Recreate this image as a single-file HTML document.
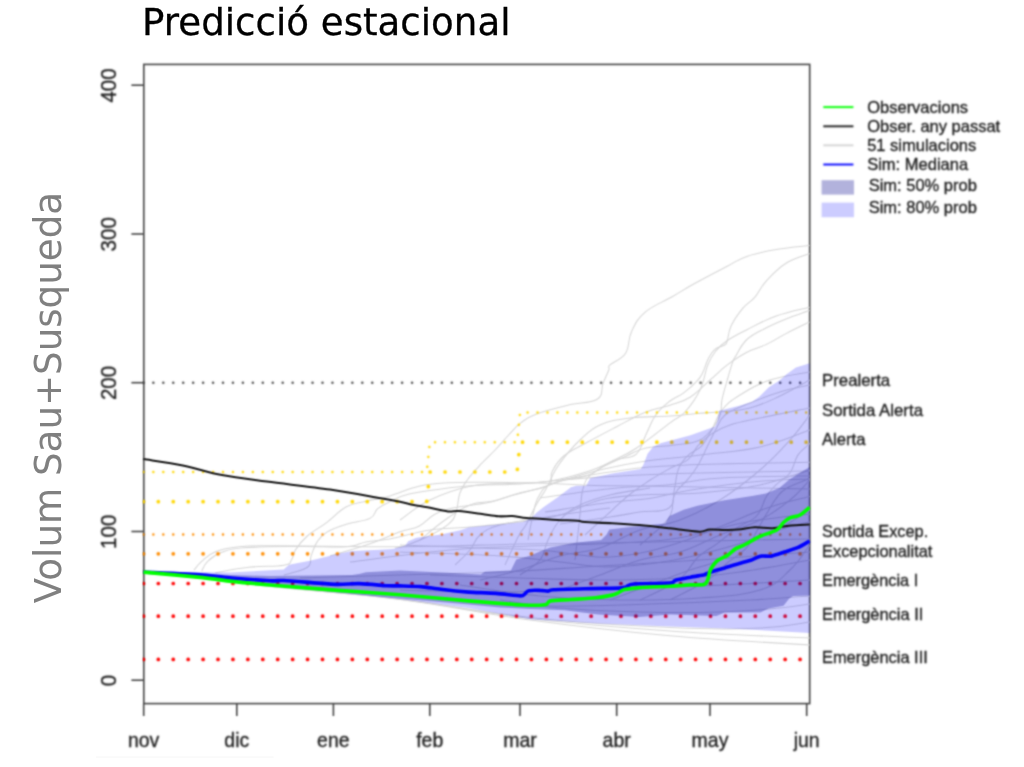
<!DOCTYPE html>
<html lang="ca"><head><meta charset="utf-8"><title>Predicció estacional</title>
<style>
html,body{margin:0;padding:0;background:#fff;}
body{width:1024px;height:767px;overflow:hidden;position:relative;font-family:"Liberation Sans",sans-serif;}
svg{position:absolute;left:0;top:0;display:block;}
.t{font-family:"DejaVu Sans","Liberation Sans",sans-serif;font-size:37.33px;}
.a{font-family:"Liberation Sans",sans-serif;font-size:22.60px;fill:#1a1a1a;stroke:#1a1a1a;stroke-width:0.30px;}
.l{font-family:"Liberation Sans",sans-serif;font-size:15.70px;fill:#1a1a1a;stroke:#1a1a1a;stroke-width:0.32px;}
</style></head><body>
<svg width="1024" height="767" viewBox="0 0 1024 767">
<defs>
<clipPath id="cp"><rect x="142.9" y="63.5" width="667.4" height="641.0"/></clipPath>
<filter id="bp" filterUnits="userSpaceOnUse" x="0" y="0" width="1024" height="767" color-interpolation-filters="sRGB"><feConvolveMatrix order="5" kernelMatrix="0.00023 0.00332 0.00809 0.00332 0.00023 0.00332 0.04785 0.11640 0.04785 0.00332 0.00809 0.11640 0.28313 0.11640 0.00809 0.00332 0.04785 0.11640 0.04785 0.00332 0.00023 0.00332 0.00809 0.00332 0.00023" edgeMode="none"/></filter>
<filter id="bt" filterUnits="userSpaceOnUse" x="0" y="0" width="1024" height="767" color-interpolation-filters="sRGB"><feConvolveMatrix order="5" kernelMatrix="0.00212 0.01118 0.01946 0.01118 0.00212 0.01118 0.05892 0.10253 0.05892 0.01118 0.01946 0.10253 0.17843 0.10253 0.01946 0.01118 0.05892 0.10253 0.05892 0.01118 0.00212 0.01118 0.01946 0.01118 0.00212" edgeMode="none"/></filter>
<filter id="bb" filterUnits="userSpaceOnUse" x="0" y="0" width="1024" height="767" color-interpolation-filters="sRGB"><feConvolveMatrix order="5" kernelMatrix="0.00087 0.00695 0.01388 0.00695 0.00087 0.00695 0.05540 0.11068 0.05540 0.00695 0.01388 0.11068 0.22111 0.11068 0.01388 0.00695 0.05540 0.11068 0.05540 0.00695 0.00087 0.00695 0.01388 0.00695 0.00087" edgeMode="none"/></filter>
<filter id="bd" filterUnits="userSpaceOnUse" x="0" y="0" width="1024" height="767" color-interpolation-filters="sRGB"><feConvolveMatrix order="5" kernelMatrix="0.00000 0.00003 0.00021 0.00003 0.00000 0.00003 0.01133 0.08373 0.01133 0.00003 0.00021 0.08373 0.61869 0.08373 0.00021 0.00003 0.01133 0.08373 0.01133 0.00003 0.00000 0.00003 0.00021 0.00003 0.00000" edgeMode="none"/></filter>
</defs>
<rect width="1024" height="767" fill="#fff"/>
<text class="t" x="142.1" y="35.2" fill="#000" stroke="#000" stroke-width="0.3" style="font-size:37.17px">Predicció estacional</text>
<text class="t" transform="translate(61.2,603.2) rotate(-90) scale(0.996,1.02)" fill="#808080">Volum Sau+Susqueda</text>
<line x1="96" x2="273.5" y1="757.2" y2="757.2" stroke="#f8f8f8" stroke-width="1.2"/>

<g filter="url(#bb)" stroke="#444444" stroke-width="1.60" fill="none">
<rect x="143.8" y="64.4" width="665.9" height="639.2"/>
<line x1="143.7" y1="703.6" x2="143.7" y2="716.0"/>
<line x1="236.8" y1="703.6" x2="236.8" y2="716.0"/>
<line x1="333.4" y1="703.6" x2="333.4" y2="716.0"/>
<line x1="429.8" y1="703.6" x2="429.8" y2="716.0"/>
<line x1="520.0" y1="703.6" x2="520.0" y2="716.0"/>
<line x1="616.7" y1="703.6" x2="616.7" y2="716.0"/>
<line x1="710.0" y1="703.6" x2="710.0" y2="716.0"/>
<line x1="806.7" y1="703.6" x2="806.7" y2="716.0"/>
<line x1="131.4" y1="680.2" x2="143.8" y2="680.2"/>
<line x1="131.4" y1="531.5" x2="143.8" y2="531.5"/>
<line x1="131.4" y1="382.7" x2="143.8" y2="382.7"/>
<line x1="131.4" y1="234.0" x2="143.8" y2="234.0"/>
<line x1="131.4" y1="85.2" x2="143.8" y2="85.2"/>
</g>
<g filter="url(#bp)"><g clip-path="url(#cp)" fill="none">
<g stroke="#d6d6d6" stroke-width="1.05" stroke-linejoin="round">
<path d="M395.0 548.0 C397.0 547.6 398.5 548.2 405.2 545.8 C411.9 543.4 420.1 540.3 428.7 536.0 C437.3 531.7 442.7 529.0 448.2 524.3 C453.7 519.6 453.7 518.9 456.0 512.6 C458.3 506.3 457.5 499.7 459.9 493.0 C462.3 486.3 463.5 485.2 467.8 479.3 C472.1 473.4 475.9 469.6 481.4 463.7 C486.9 457.8 489.6 455.8 495.1 450.0 C500.6 444.2 504.0 439.9 509.1 434.5 C514.2 429.1 515.3 426.9 520.8 422.8 C526.3 418.7 527.1 417.5 536.5 414.0 C545.9 410.5 555.7 408.1 567.8 405.2 C579.9 402.3 590.1 403.6 597.1 399.3 C604.1 395.0 600.6 389.6 602.9 383.7 C605.2 377.8 607.4 373.8 608.8 370.0 C610.2 366.2 606.6 368.3 610.0 364.9 C613.4 361.5 621.3 359.8 625.6 353.2 C629.9 346.6 627.6 339.9 631.5 331.7 C635.4 323.5 637.0 319.1 645.2 312.1 C653.4 305.1 662.8 302.2 672.6 296.5 C682.4 290.8 683.2 289.9 694.1 283.8 C705.0 277.7 716.7 271.7 727.3 266.2 C737.9 260.7 737.1 259.7 746.9 256.4 C756.7 253.1 763.6 251.8 776.2 249.6 C788.8 247.4 803.0 246.4 809.7 245.6"/>
<path d="M400.0 520.0 C406.0 516.0 416.0 506.7 430.0 500.0 C444.0 493.3 454.2 489.6 470.0 486.3 C485.8 483.0 493.5 484.4 509.1 483.4 C524.7 482.4 532.6 483.7 548.2 481.4 C563.8 479.1 573.6 476.0 587.3 471.7 C601.0 467.4 606.8 463.4 616.6 459.9 C626.4 456.4 630.3 459.2 636.2 454.1 C642.1 449.0 642.1 442.3 646.0 434.5 C649.9 426.7 650.9 421.7 655.7 415.0 C660.5 408.3 664.4 405.4 670.0 401.0 C675.6 396.6 678.2 397.0 683.7 392.9 C689.2 388.8 693.6 384.7 697.4 380.6 C701.2 376.5 700.6 376.8 702.8 372.4 C705.0 368.0 705.8 363.4 708.3 358.7 C710.8 354.0 711.8 351.8 715.1 349.1 C718.4 346.4 722.3 346.7 724.7 345.0 C727.1 343.3 726.0 344.3 727.3 340.5 C728.6 336.7 728.1 332.3 731.2 325.8 C734.3 319.3 738.2 313.9 742.9 308.2 C747.6 302.5 750.0 302.9 754.7 297.4 C759.4 291.9 760.1 287.6 766.4 280.8 C772.7 274.0 777.3 268.7 786.0 263.2 C794.7 257.7 805.0 255.4 809.7 253.5"/>
<path d="M420.0 540.0 C425.0 536.0 435.0 527.0 445.0 520.0 C455.0 513.0 460.3 508.7 470.0 504.9 C479.7 501.1 483.7 503.3 493.5 501.0 C503.3 498.7 508.0 496.3 518.9 493.2 C529.8 490.1 541.6 489.6 548.2 485.3 C554.8 481.0 549.0 477.6 552.1 471.7 C555.2 465.8 556.8 461.9 563.8 456.0 C570.8 450.1 576.7 448.2 587.3 442.3 C597.9 436.4 604.9 432.8 616.6 426.7 C628.3 420.6 635.3 416.3 646.0 412.0 C656.7 407.7 661.1 408.2 670.0 405.2 C678.9 402.2 682.3 402.2 690.5 397.0 C698.7 391.8 703.6 385.6 711.0 379.2 C718.4 372.8 720.1 370.3 727.3 364.9 C734.5 359.5 739.1 356.3 746.9 352.2 C754.7 348.1 758.6 348.1 766.4 344.4 C774.2 340.7 777.3 338.1 786.0 333.6 C794.7 329.1 805.0 324.2 809.7 321.9"/>
<path d="M528.0 540.0 C528.9 535.3 530.5 525.2 532.6 516.6 C534.7 508.0 534.5 503.7 538.4 497.1 C542.3 490.5 542.3 487.7 552.1 483.4 C561.9 479.1 576.3 479.5 587.3 475.6 C598.3 471.7 597.1 469.3 606.9 463.8 C616.7 458.3 623.6 456.4 636.2 448.2 C648.8 440.0 660.2 430.0 670.0 422.8 C679.8 415.6 679.0 418.6 685.0 412.0 C691.0 405.4 695.4 399.4 700.0 390.0 C704.6 380.6 704.7 372.7 707.8 364.9 C710.9 357.1 711.7 356.1 715.6 351.2 C719.5 346.3 721.0 344.8 727.3 340.5 C733.6 336.2 737.1 334.6 746.9 329.7 C756.7 324.8 763.6 320.5 776.2 316.0 C788.8 311.5 803.0 309.0 809.7 307.2"/>
<path d="M575.0 560.0 C575.9 552.0 577.8 534.5 579.5 520.0 C581.2 505.5 580.3 497.0 583.4 487.3 C586.5 477.6 586.5 478.0 595.1 471.7 C603.7 465.4 616.2 460.7 626.4 456.0 C636.6 451.3 636.3 450.2 646.0 448.0 C655.7 445.8 664.2 446.6 675.0 445.0 C685.8 443.4 692.0 444.0 700.0 440.0 C708.0 436.0 710.9 430.3 715.0 425.0 C719.1 419.7 719.2 418.5 720.6 413.4 C722.0 408.3 720.6 406.5 722.0 399.7 C723.4 392.9 725.3 386.9 727.5 379.2 C729.7 371.5 731.4 365.8 732.9 361.4 C734.4 357.0 732.3 361.5 735.1 357.1 C737.9 352.7 740.6 345.4 746.9 339.5 C753.2 333.6 758.6 331.9 766.4 327.8 C774.2 323.7 777.3 322.5 786.0 319.0 C794.7 315.5 805.0 312.0 809.7 310.2"/>
<path d="M193.9 570.2 C195.5 568.4 197.4 565.1 201.7 561.4 C206.0 557.7 208.0 554.6 215.4 551.7 C222.8 548.8 228.3 548.0 238.9 546.8 C249.5 545.6 250.6 545.9 268.2 545.8 C285.8 545.7 302.5 546.0 326.9 546.2 C351.3 546.4 365.4 546.8 390.0 546.8 C414.6 546.8 424.0 546.6 450.0 546.0 C476.0 545.4 490.0 544.6 520.0 544.0 C550.0 543.4 564.0 543.6 600.0 543.0 C636.0 542.4 658.1 541.8 700.0 541.0 C741.9 540.2 787.8 539.4 809.7 539.0"/>
<path d="M201.7 571.2 C202.9 569.2 203.7 565.1 207.6 561.4 C211.5 557.7 213.9 555.3 221.3 552.6 C228.7 549.9 229.0 549.0 244.7 547.8 C260.4 546.6 279.7 546.7 300.0 546.5 C320.3 546.3 333.2 547.7 346.4 546.8 C359.6 545.9 357.3 543.5 366.0 541.9 C374.7 540.3 377.5 541.3 390.0 539.0 C402.5 536.7 413.1 532.6 428.7 530.2 C444.3 527.8 450.2 528.8 467.8 527.2 C485.4 525.6 498.2 524.7 516.6 522.3 C535.0 519.9 543.3 519.5 560.0 515.0 C576.7 510.5 584.0 504.0 600.0 500.0 C616.0 496.0 620.0 496.4 640.0 495.0 C660.0 493.6 676.0 495.0 700.0 493.0 C724.0 491.0 738.1 489.6 760.0 485.0 C781.9 480.4 799.8 473.0 809.7 470.0"/>
<path d="M215.4 572.8 C222.1 571.7 235.0 568.8 248.7 567.3 C262.4 565.8 275.2 566.9 283.8 565.3 C292.4 563.7 289.3 562.6 291.7 559.5 C294.1 556.4 292.5 554.4 295.6 549.7 C298.7 545.0 301.0 541.5 307.3 536.0 C313.6 530.5 319.1 528.2 326.9 522.3 C334.7 516.4 338.6 510.9 346.4 506.7 C354.2 502.5 357.3 503.4 366.0 501.2 C374.7 499.0 379.4 498.9 390.0 495.9 C400.6 492.9 407.3 488.8 418.9 486.2 C430.5 483.6 434.5 483.6 448.2 482.8 C461.9 482.0 467.7 482.2 487.3 482.3 C506.9 482.4 526.0 482.6 546.0 483.2 C566.0 483.8 568.5 484.7 587.3 485.3 C606.1 485.9 617.5 485.7 640.0 486.0 C662.5 486.3 666.1 486.4 700.0 487.0 C733.9 487.6 787.8 488.6 809.7 489.0"/>
<path d="M283.8 575.1 C288.5 573.5 301.8 571.2 307.3 567.3 C312.8 563.4 309.2 560.7 311.2 555.6 C313.2 550.5 314.0 546.6 317.1 541.9 C320.2 537.2 321.0 535.6 326.9 532.1 C332.8 528.6 337.8 527.0 346.4 524.3 C355.0 521.6 363.6 521.5 369.9 518.4 C376.2 515.3 373.7 512.0 377.7 508.7 C381.7 505.4 383.7 504.7 390.0 501.8 C396.3 498.9 397.5 496.7 409.1 494.0 C420.7 491.3 434.5 489.9 448.2 488.1 C461.9 486.3 463.1 486.0 477.5 485.2 C491.9 484.4 501.5 485.2 520.0 484.0 C538.5 482.8 550.0 480.9 570.0 479.3 C590.0 477.7 594.0 477.3 620.0 476.0 C646.0 474.7 662.1 474.0 700.0 473.0 C737.9 472.0 787.8 471.4 809.7 471.0"/>
<path d="M330.0 556.0 C338.0 553.6 356.1 548.6 370.0 543.8 C383.9 539.0 389.5 535.6 399.3 532.1 C409.1 528.6 411.9 529.7 418.9 526.2 C425.9 522.7 427.5 518.2 434.5 514.5 C441.5 510.8 443.5 510.0 454.1 507.7 C464.7 505.4 476.7 505.0 487.3 502.8 C497.9 500.6 497.1 499.6 506.9 496.9 C516.7 494.2 523.6 492.8 536.2 489.1 C548.8 485.4 557.2 482.1 570.0 478.3 C582.8 474.5 586.0 473.3 600.0 470.0 C614.0 466.7 620.0 465.0 640.0 462.0 C660.0 459.0 676.0 458.0 700.0 455.0 C724.0 452.0 738.1 452.0 760.0 447.0 C781.9 442.0 799.8 433.4 809.7 430.0"/>
<path d="M505.0 565.0 C507.7 559.2 514.3 544.1 518.6 536.0 C522.9 527.9 522.9 530.6 526.4 524.3 C529.9 518.0 532.3 511.7 536.2 504.7 C540.1 497.7 542.1 496.1 546.0 489.1 C549.9 482.1 551.8 476.2 555.7 469.6 C559.6 463.0 560.6 461.8 565.5 455.9 C570.4 450.0 573.1 446.2 580.0 440.0 C586.9 433.8 590.0 429.4 600.0 425.0 C610.0 420.6 616.0 419.8 630.0 418.0 C644.0 416.2 656.5 417.0 670.0 416.1 C683.5 415.2 687.8 414.2 697.4 413.4 C707.0 412.6 707.4 413.1 717.9 412.0 C728.4 410.9 737.6 411.2 750.0 408.0 C762.4 404.8 768.1 401.6 780.0 396.0 C791.9 390.4 803.8 383.2 809.7 380.0"/>
<path d="M480.0 580.0 C488.0 578.0 504.0 574.8 520.0 570.0 C536.0 565.2 544.0 560.4 560.0 556.0 C576.0 551.6 584.0 553.2 600.0 548.0 C616.0 542.8 624.0 535.6 640.0 530.0 C656.0 524.4 664.0 526.0 680.0 520.0 C696.0 514.0 704.0 510.0 720.0 500.0 C736.0 490.0 746.0 482.0 760.0 470.0 C774.0 458.0 780.1 451.0 790.0 440.0 C799.9 429.0 805.8 420.0 809.7 415.0"/>
<path d="M560.0 590.0 C568.0 587.0 584.0 581.0 600.0 575.0 C616.0 569.0 624.0 564.6 640.0 560.0 C656.0 555.4 664.0 557.0 680.0 552.0 C696.0 547.0 704.0 541.4 720.0 535.0 C736.0 528.6 746.0 527.0 760.0 520.0 C774.0 513.0 780.1 508.0 790.0 500.0 C799.9 492.0 805.8 484.0 809.7 480.0"/>
<path d="M610.0 600.0 C618.0 597.0 634.0 591.0 650.0 585.0 C666.0 579.0 676.0 575.0 690.0 570.0 C704.0 565.0 708.0 566.0 720.0 560.0 C732.0 554.0 738.0 546.4 750.0 540.0 C762.0 533.6 768.1 534.0 780.0 528.0 C791.9 522.0 803.8 513.6 809.7 510.0"/>
<path d="M300.0 578.0 C320.0 577.4 360.0 576.2 400.0 575.0 C440.0 573.8 460.0 573.8 500.0 572.0 C540.0 570.2 560.0 568.4 600.0 566.0 C640.0 563.6 658.1 562.8 700.0 560.0 C741.9 557.2 787.8 553.6 809.7 552.0"/>
<path d="M400.0 590.0 C420.0 590.4 460.0 592.4 500.0 592.0 C540.0 591.6 560.0 589.2 600.0 588.0 C640.0 586.8 658.1 587.6 700.0 586.0 C741.9 584.4 787.8 581.2 809.7 580.0"/>
<path d="M450.0 600.0 C470.0 601.2 510.0 605.2 550.0 606.0 C590.0 606.8 610.0 605.2 650.0 604.0 C690.0 602.8 718.1 601.6 750.0 600.0 C781.9 598.4 797.8 596.8 809.7 596.0"/>
<path d="M143.5 571.7 C168.8 574.7 218.7 580.9 270.0 586.5 C321.3 592.1 348.0 592.8 400.0 599.5 C452.0 606.2 476.0 612.7 530.0 620.0 C584.0 627.3 614.1 630.8 670.0 635.8 C725.9 640.8 781.8 643.2 809.7 645.0"/>
<path d="M143.5 571.7 C168.8 574.6 218.7 580.8 270.0 586.3 C321.3 591.8 348.0 592.8 400.0 599.2 C452.0 605.6 476.0 612.1 530.0 618.5 C584.0 624.9 614.1 627.1 670.0 631.0 C725.9 634.9 781.8 636.6 809.7 638.0"/>
<path d="M143.5 571.7 C168.8 574.6 218.7 580.7 270.0 586.2 C321.3 591.7 348.0 592.7 400.0 599.0 C452.0 605.3 476.0 611.8 530.0 617.5 C584.0 623.2 624.0 625.4 670.0 627.5 C716.0 629.6 732.1 629.1 760.0 628.0 C787.9 626.9 799.8 623.2 809.7 622.0"/>
<path d="M560.0 480.0 C570.0 478.4 592.2 474.6 610.0 472.0 C627.8 469.4 629.4 468.7 649.0 467.1 C668.6 465.5 675.7 465.2 707.8 464.2 C739.9 463.2 789.3 462.7 809.7 462.3"/>
<path d="M540.0 498.0 C554.0 496.1 584.3 491.4 610.0 488.7 C635.7 486.0 649.1 486.7 668.7 484.7 C688.3 482.7 692.2 480.5 707.8 478.9 C723.4 477.3 726.5 477.5 746.9 476.9 C767.3 476.3 797.1 476.1 809.7 475.9"/>
<path d="M545.0 512.0 C558.0 510.1 589.2 505.0 610.0 502.3 C630.8 499.6 633.4 500.7 649.0 498.4 C664.6 496.1 672.5 493.3 688.2 490.6 C703.9 487.9 711.7 486.7 727.3 484.7 C742.9 482.7 749.9 482.0 766.4 480.8 C782.9 479.6 801.0 479.3 809.7 478.9"/>
<path d="M560.0 524.0 C570.0 522.6 594.1 519.4 610.0 517.0 C625.9 514.6 627.6 513.9 639.3 512.1 C651.0 510.3 661.7 512.9 668.7 508.2 C675.7 503.5 672.6 496.5 674.5 488.7 C676.4 480.9 675.7 475.8 678.4 469.1 C681.1 462.4 683.5 460.1 688.2 455.4 C692.9 450.7 697.2 450.7 701.9 445.6 C706.6 440.5 707.7 437.1 711.7 430.0 C715.7 422.9 716.3 417.0 722.0 410.0 C727.7 403.0 730.4 401.0 740.0 395.0 C749.6 389.0 756.1 384.6 770.0 380.0 C783.9 375.4 801.8 373.6 809.7 372.0"/>
<path d="M585.0 535.0 C590.0 530.4 601.1 520.2 610.0 512.1 C618.9 504.0 621.8 500.8 629.6 494.5 C637.4 488.2 641.2 485.9 649.0 480.8 C656.8 475.7 660.9 473.4 668.7 469.1 C676.5 464.8 682.3 464.0 688.2 459.3 C694.1 454.6 693.3 450.7 698.0 445.6 C702.7 440.5 705.3 438.0 711.7 433.9 C718.1 429.8 720.3 428.2 730.0 425.0 C739.7 421.8 744.1 421.4 760.0 418.0 C775.9 414.6 799.8 410.0 809.7 408.0"/>
<path d="M640.0 545.0 C645.7 539.6 661.8 528.1 668.7 518.0 C675.6 507.9 670.6 502.3 674.5 494.5 C678.4 486.7 683.5 484.8 688.2 478.9 C692.9 473.0 694.1 471.9 698.0 465.2 C701.9 458.5 704.3 452.6 707.8 445.6 C711.3 438.6 712.2 436.1 715.6 430.0 C719.0 423.9 719.1 420.0 725.0 415.0 C730.9 410.0 734.0 409.6 745.0 405.0 C756.0 400.4 767.1 396.0 780.0 392.0 C792.9 388.0 803.8 386.4 809.7 385.0"/>
<path d="M640.0 600.0 C647.7 596.0 666.8 588.6 678.4 580.0 C690.0 571.4 690.2 564.4 698.0 557.1 C705.8 549.8 709.7 549.3 717.5 543.4 C725.3 537.5 729.3 533.3 737.1 527.8 C744.9 522.3 750.7 522.3 756.6 516.0 C762.5 509.7 762.5 502.8 766.4 496.5 C770.3 490.2 771.5 489.4 776.2 484.7 C780.9 480.0 785.6 478.9 789.9 473.0 C794.2 467.1 794.2 460.9 797.7 455.4 C801.2 449.9 805.1 448.1 807.5 445.6 C809.9 443.1 809.3 443.5 809.7 443.0"/>
<path d="M670.0 600.0 C677.6 596.0 696.3 587.4 707.8 580.0 C719.3 572.6 719.5 569.5 727.3 563.0 C735.1 556.5 740.6 554.3 746.9 547.3 C753.2 540.3 754.7 534.4 758.6 527.8 C762.5 521.2 762.9 520.0 766.4 514.1 C769.9 508.2 772.3 503.5 776.2 498.4 C780.1 493.3 779.3 492.7 786.0 488.7 C792.7 484.7 805.0 480.5 809.7 478.5"/>
<path d="M400.0 545.0 C416.0 545.6 452.0 547.0 480.0 548.0 C508.0 549.0 520.0 548.6 540.0 550.0 C560.0 551.4 566.0 553.6 580.0 555.0 C594.0 556.4 596.2 557.8 610.0 557.0 C623.8 556.2 633.4 554.7 649.0 551.2 C664.6 547.7 672.5 545.0 688.2 539.5 C703.9 534.0 711.7 530.1 727.3 523.8 C742.9 517.5 749.9 513.7 766.4 508.2 C782.9 502.7 801.0 498.8 809.7 496.5"/>
<path d="M400.0 552.0 C420.0 552.8 468.0 554.0 500.0 556.0 C532.0 558.0 538.0 559.8 560.0 562.0 C582.0 564.2 588.3 567.1 610.0 566.9 C631.7 566.7 645.2 564.9 668.7 561.0 C692.2 557.1 703.8 553.9 727.3 547.3 C750.8 540.7 769.5 532.9 786.0 527.8 C802.5 522.7 805.0 523.1 809.7 521.9"/>
<path d="M350.0 562.0 C370.0 559.6 414.0 553.2 450.0 550.0 C486.0 546.8 498.0 547.3 530.0 546.0 C562.0 544.7 582.3 544.7 610.0 543.4 C637.7 542.1 649.1 541.8 668.7 539.5 C688.3 537.2 692.2 535.2 707.8 531.7 C723.4 528.2 726.5 525.4 746.9 521.9 C767.3 518.4 797.1 515.7 809.7 514.1"/>
<path d="M430.0 575.0 C448.0 575.6 486.0 577.0 520.0 578.0 C554.0 579.0 568.0 580.0 600.0 580.0 C632.0 580.0 652.0 579.6 680.0 578.0 C708.0 576.4 714.1 575.6 740.0 572.0 C765.9 568.4 795.8 562.4 809.7 560.0"/>
<path d="M460.0 585.0 C476.0 587.2 508.0 593.0 540.0 596.0 C572.0 599.0 588.0 599.6 620.0 600.0 C652.0 600.4 672.0 600.0 700.0 598.0 C728.0 596.0 742.0 595.6 760.0 590.0 C778.0 584.4 780.1 579.0 790.0 570.0 C799.9 561.0 805.8 550.0 809.7 545.0"/>
<path d="M500.0 600.0 C512.0 601.6 532.0 605.6 560.0 608.0 C588.0 610.4 608.0 611.2 640.0 612.0 C672.0 612.8 692.0 612.8 720.0 612.0 C748.0 611.2 762.1 609.6 780.0 608.0 C797.9 606.4 803.8 604.8 809.7 604.0"/>
<path d="M520.0 575.0 C524.0 572.0 534.4 567.0 540.0 560.0 C545.6 553.0 544.0 548.0 548.0 540.0 C552.0 532.0 553.6 527.0 560.0 520.0 C566.4 513.0 570.0 510.0 580.0 505.0 C590.0 500.0 596.0 498.4 610.0 495.0 C624.0 491.6 642.0 489.4 650.0 488.0"/>
<path d="M455.0 565.0 C458.0 562.0 465.0 556.0 470.0 550.0 C475.0 544.0 474.0 540.0 480.0 535.0 C486.0 530.0 488.0 528.4 500.0 525.0 C512.0 521.6 524.0 520.6 540.0 518.0 C556.0 515.4 566.0 514.0 580.0 512.0 C594.0 510.0 604.0 508.8 610.0 508.0"/>
</g>
<g filter="url(#bd)">
<path d="M143.4 382.7 L809.7 382.7" stroke="#4d4d4d" stroke-width="2.49" stroke-linecap="round" stroke-dasharray="0.01 9.940"/>
<path d="M143.4 472.0 L426.7 472.0 L429.9 442.2 L517.1 442.2 L520.1 412.5 L809.7 412.5" stroke="#ffd700" stroke-width="2.49" stroke-linecap="round" stroke-dasharray="0.01 9.940"/>
<path d="M143.4 501.7 L426.7 501.7 L429.9 472.0 L517.1 472.0 L520.1 442.2 L809.7 442.2" stroke="#ffd700" stroke-width="3.73" stroke-linecap="round" stroke-dasharray="0.01 14.914"/>
<path d="M143.4 534.4 L809.7 534.4" stroke="#ff8c00" stroke-width="2.49" stroke-linecap="round" stroke-dasharray="0.01 9.940"/>
<path d="M143.4 553.8 L809.7 553.8" stroke="#ff8c00" stroke-width="3.73" stroke-linecap="round" stroke-dasharray="0.01 14.914"/>
<path d="M143.4 583.5 L809.7 583.5" stroke="#ff0000" stroke-width="3.73" stroke-linecap="round" stroke-dasharray="0.01 14.914"/>
<path d="M143.4 616.2 L809.7 616.2" stroke="#ff0000" stroke-width="3.73" stroke-linecap="round" stroke-dasharray="0.01 14.914"/>
<path d="M143.4 659.4 L809.7 659.4" stroke="#ff0000" stroke-width="3.73" stroke-linecap="round" stroke-dasharray="0.01 14.914"/>
</g>
<polygon points="143.5,571.3 230.0,572.5 270.0,570.2 283.7,569.5 289.0,564.7 311.0,560.6 338.4,553.8 352.0,551.0 379.4,549.7 393.0,549.0 405.4,545.6 408.2,541.2 416.4,537.7 441.0,534.4 460.2,530.3 468.4,527.6 495.8,524.8 523.1,522.1 531.3,518.0 536.8,512.5 543.7,507.0 557.4,497.5 571.0,487.2 576.5,485.8 586.1,485.8 590.2,478.3 612.1,473.5 640.8,469.0 643.5,464.6 647.6,453.7 653.1,446.8 661.3,443.0 670.0,440.8 690.5,435.3 715.1,426.4 717.2,421.6 719.2,410.7 738.4,405.9 752.0,401.8 759.0,397.0 768.5,387.4 779.4,380.6 786.3,374.4 795.9,367.6 809.7,363.3 809.7,633.0 738.4,628.9 670.0,626.5 598.4,623.4 530.0,619.3 468.4,608.0 400.0,599.0 270.0,586.0 143.5,571.7" fill="#0000ff" fill-opacity="0.2"/>
<polygon points="143.5,571.3 230.0,575.0 270.0,576.0 311.0,575.5 352.0,575.0 359.0,574.0 366.0,572.2 400.0,570.4 452.0,573.1 480.7,574.5 484.8,571.7 510.8,570.4 516.3,559.4 530.0,555.7 541.0,551.0 550.5,547.5 575.0,542.7 601.1,539.9 606.6,534.4 609.3,529.6 625.8,527.5 653.1,524.8 665.4,523.5 668.2,518.0 670.0,515.8 683.7,509.8 697.4,505.7 724.7,500.2 752.0,496.1 765.8,493.4 779.4,487.9 789.0,479.7 800.0,472.8 809.7,467.0 809.7,595.4 793.0,596.0 789.0,598.8 783.5,605.7 768.5,608.4 760.3,612.5 724.7,612.5 716.5,615.9 670.0,614.5 639.4,617.0 598.4,614.6 564.0,610.3 530.0,609.0 500.0,607.5 468.4,604.5 400.0,598.4 270.0,585.5 143.5,571.7" fill="#00008b" fill-opacity="0.3"/>
<path d="M143.5 459.1 C150.1 460.2 169.7 462.7 182.8 465.4 C195.9 468.1 207.9 472.4 221.9 475.1 C235.9 477.8 248.9 479.2 266.9 481.6 C284.9 484.0 311.0 486.8 330.0 489.6 C349.0 492.4 369.1 496.2 380.8 498.2 C392.5 500.2 394.5 500.7 400.0 501.8 C405.5 502.9 409.1 504.1 413.7 505.0 C418.3 505.9 421.7 506.2 427.4 507.3 C433.1 508.4 442.7 510.8 447.9 511.4 C453.1 512.0 453.1 510.7 458.8 511.1 C464.5 511.6 475.5 513.2 482.1 514.1 C488.7 515.0 493.5 516.0 498.5 516.3 C503.5 516.6 508.1 515.9 512.2 516.1 C516.3 516.3 518.5 517.3 523.1 517.7 C527.7 518.1 534.3 518.3 540.0 518.7 C545.7 519.1 551.1 519.7 557.4 520.0 C563.7 520.3 573.3 520.4 577.9 520.7 C582.5 521.1 579.0 521.7 584.7 522.1 C590.4 522.5 603.0 522.7 612.1 523.2 C621.2 523.7 629.8 524.2 639.4 525.1 C649.0 526.0 662.6 527.5 670.0 528.3 C677.4 529.1 678.7 529.4 683.7 530.0 C688.7 530.6 695.8 531.8 700.1 531.7 C704.4 531.6 705.6 529.9 709.7 529.6 C713.8 529.3 719.9 529.9 724.7 529.9 C729.5 529.9 733.4 530.0 738.4 529.6 C743.4 529.2 749.1 527.5 754.8 527.3 C760.5 527.1 766.7 528.5 772.6 528.2 C778.5 527.9 784.2 526.1 790.4 525.5 C796.6 524.9 806.5 524.7 809.7 524.5" stroke="#141414" stroke-width="2.05" stroke-linejoin="round"/>
<path d="M143.5 572.0 C151.4 572.4 191.1 574.1 202.9 575.0 C214.7 575.8 222.8 577.3 231.7 578.1 C240.6 578.8 263.1 580.4 270.0 580.8 C276.9 581.1 278.2 580.2 283.7 580.5 C289.2 580.7 303.7 582.0 311.0 582.6 C318.3 583.1 332.0 584.2 338.4 584.4 C344.8 584.5 352.6 583.4 359.0 583.6 C365.4 583.7 380.8 585.3 386.3 585.7 C391.8 586.0 395.4 585.7 400.0 585.9 C404.6 586.0 415.0 586.1 420.5 586.6 C426.0 587.0 434.6 588.5 441.0 589.2 C447.4 590.0 461.1 591.5 468.4 592.1 C475.7 592.6 488.9 592.8 495.8 593.4 C502.7 593.9 516.7 595.8 520.5 595.9 C524.3 595.9 523.5 594.7 524.6 594.1 C525.7 593.4 526.6 591.1 528.7 590.7 C530.8 590.2 537.5 590.3 540.0 590.4 C542.5 590.4 546.0 591.1 547.8 591.1 C549.6 591.0 548.4 590.0 553.3 589.7 C558.2 589.3 575.9 588.9 584.7 588.7 C593.5 588.4 613.5 588.3 619.0 588.1 C624.5 587.8 623.8 587.5 625.8 587.0 C627.8 586.4 628.1 584.5 634.0 584.0 C639.9 583.4 664.5 583.6 670.0 583.1 C675.5 582.5 672.8 580.9 675.5 580.2 C678.2 579.4 686.7 577.9 690.5 577.2 C694.3 576.4 701.5 575.3 704.2 574.7 C706.9 574.0 708.3 572.9 711.0 572.0 C713.7 571.0 721.0 568.9 724.7 567.9 C728.4 566.8 734.8 564.8 738.4 563.8 C742.0 562.7 749.0 560.7 752.0 559.7 C755.0 558.6 758.4 556.5 761.0 556.1 C763.6 555.6 767.8 556.7 771.2 556.1 C774.6 555.4 782.6 552.6 786.3 551.5 C790.0 550.3 795.5 548.6 798.6 547.2 C801.7 545.9 808.2 541.8 809.7 541.0" stroke="#0000ff" stroke-width="3.65" stroke-linejoin="round"/>
<path d="M143.5 572.1 C151.4 572.8 191.1 576.4 202.9 577.6 C214.7 578.8 222.8 580.4 231.7 581.4 C240.6 582.4 255.8 583.8 270.0 585.0 C284.2 586.2 321.1 589.1 338.4 590.4 C355.7 591.7 382.7 593.3 400.0 594.7 C417.3 596.1 452.0 599.5 468.4 600.9 C484.8 602.3 512.9 604.5 523.1 605.0 C533.3 605.5 541.3 605.2 545.0 604.7 C548.7 604.2 547.0 601.6 550.5 600.9 C554.0 600.2 565.0 599.9 571.0 599.5 C577.0 599.1 590.2 598.4 595.7 597.8 C601.2 597.2 609.2 595.7 612.1 595.1 C615.0 594.5 615.9 593.8 617.5 593.1 C619.1 592.4 621.5 590.3 624.4 589.6 C627.3 588.9 633.3 588.1 639.4 587.6 C645.5 587.1 663.2 586.6 670.0 586.2 C676.8 585.8 685.9 585.1 690.5 584.9 C695.1 584.7 701.9 585.0 704.2 584.4 C706.5 583.8 706.9 581.8 707.6 580.1 C708.3 578.4 709.1 573.7 709.7 571.9 C710.3 570.1 711.3 568.0 712.4 566.4 C713.5 564.8 715.9 561.7 717.9 560.2 C719.9 558.7 725.1 556.9 727.5 555.4 C729.9 553.9 733.3 550.1 735.7 548.6 C738.1 547.1 742.1 546.1 745.2 544.5 C748.3 542.9 754.7 538.7 758.9 536.8 C763.1 534.9 773.4 531.9 776.7 530.0 C780.0 528.1 781.7 524.1 783.5 522.5 C785.3 520.9 788.2 518.7 790.4 517.7 C792.6 516.7 797.4 516.4 800.0 515.0 C802.6 513.6 808.4 508.4 809.7 507.4" stroke="#00ff00" stroke-width="3.65" stroke-linejoin="round"/>
</g></g>
<g filter="url(#bt)">
<text class="a" style="font-size:20.60px" x="127.9" y="747.2" textLength="31.4" lengthAdjust="spacingAndGlyphs">nov</text>
<text class="a" style="font-size:20.60px" x="224.3" y="747.2" textLength="24.9" lengthAdjust="spacingAndGlyphs">dic</text>
<text class="a" style="font-size:20.60px" x="317.1" y="747.2" textLength="32.5" lengthAdjust="spacingAndGlyphs">ene</text>
<text class="a" style="font-size:20.60px" x="416.2" y="747.2" textLength="27.1" lengthAdjust="spacingAndGlyphs">feb</text>
<text class="a" style="font-size:20.60px" x="503.2" y="747.2" textLength="33.6" lengthAdjust="spacingAndGlyphs">mar</text>
<text class="a" style="font-size:20.60px" x="602.6" y="747.2" textLength="28.2" lengthAdjust="spacingAndGlyphs">abr</text>
<text class="a" style="font-size:20.60px" x="691.6" y="747.2" textLength="36.8" lengthAdjust="spacingAndGlyphs">may</text>
<text class="a" style="font-size:20.60px" x="793.7" y="747.2" textLength="26.0" lengthAdjust="spacingAndGlyphs">jun</text>
<text class="a" transform="translate(115.6,680.5) rotate(-90)" x="-5.7" textLength="11.4" lengthAdjust="spacingAndGlyphs">0</text>
<text class="a" transform="translate(115.6,531.8) rotate(-90)" x="-17.1" textLength="34.2" lengthAdjust="spacingAndGlyphs">100</text>
<text class="a" transform="translate(115.6,383.0) rotate(-90)" x="-17.1" textLength="34.2" lengthAdjust="spacingAndGlyphs">200</text>
<text class="a" transform="translate(115.6,234.3) rotate(-90)" x="-17.1" textLength="34.2" lengthAdjust="spacingAndGlyphs">300</text>
<text class="a" transform="translate(115.6,85.5) rotate(-90)" x="-17.1" textLength="34.2" lengthAdjust="spacingAndGlyphs">400</text>
<text class="l" x="822" y="386.3" textLength="68.2" lengthAdjust="spacingAndGlyphs">Prealerta</text>
<text class="l" x="822" y="416.3" textLength="101.0" lengthAdjust="spacingAndGlyphs">Sortida Alerta</text>
<text class="l" x="822" y="445.3" textLength="43.5" lengthAdjust="spacingAndGlyphs">Alerta</text>
<text class="l" x="822" y="537.2" textLength="106.2" lengthAdjust="spacingAndGlyphs">Sortida Excep.</text>
<text class="l" x="822" y="557.2" textLength="110.4" lengthAdjust="spacingAndGlyphs">Excepcionalitat</text>
<text class="l" x="822" y="586.2" textLength="96.2" lengthAdjust="spacingAndGlyphs">Emergència I</text>
<text class="l" x="822" y="619.7" textLength="101.3" lengthAdjust="spacingAndGlyphs">Emergència II</text>
<text class="l" x="822" y="663.2" textLength="105.8" lengthAdjust="spacingAndGlyphs">Emergència III</text>
<line x1="823.3" x2="853.4" y1="107.1" y2="107.1" stroke="#00ff00" stroke-width="1.9"/>
<line x1="823.3" x2="853.4" y1="126.3" y2="126.3" stroke="#1c1c1c" stroke-width="1.9"/>
<line x1="823.3" x2="853.4" y1="145.3" y2="145.3" stroke="#d3d3d3" stroke-width="1.9"/>
<line x1="823.3" x2="853.4" y1="164.5" y2="164.5" stroke="#0000ff" stroke-width="1.9"/>
<rect x="821.6" y="180.2" width="32.4" height="14.4" fill="#b2b2dc"/>
<rect x="821.6" y="202.6" width="32.4" height="14.6" fill="#ccccff"/>
<text class="l" x="867.2" y="112.6" textLength="100.9" lengthAdjust="spacingAndGlyphs">Observacions</text>
<text class="l" x="867.2" y="131.7" textLength="133.0" lengthAdjust="spacingAndGlyphs">Obser. any passat</text>
<text class="l" x="867.2" y="150.8" textLength="109.1" lengthAdjust="spacingAndGlyphs">51 simulacions</text>
<text class="l" x="867.2" y="169.9" textLength="100.9" lengthAdjust="spacingAndGlyphs">Sim: Mediana</text>
<text class="l" x="868.7" y="191.4" textLength="108.2" lengthAdjust="spacingAndGlyphs">Sim: 50% prob</text>
<text class="l" x="868.7" y="213.3" textLength="108.2" lengthAdjust="spacingAndGlyphs">Sim: 80% prob</text>
</g>
</svg>
</body></html>
